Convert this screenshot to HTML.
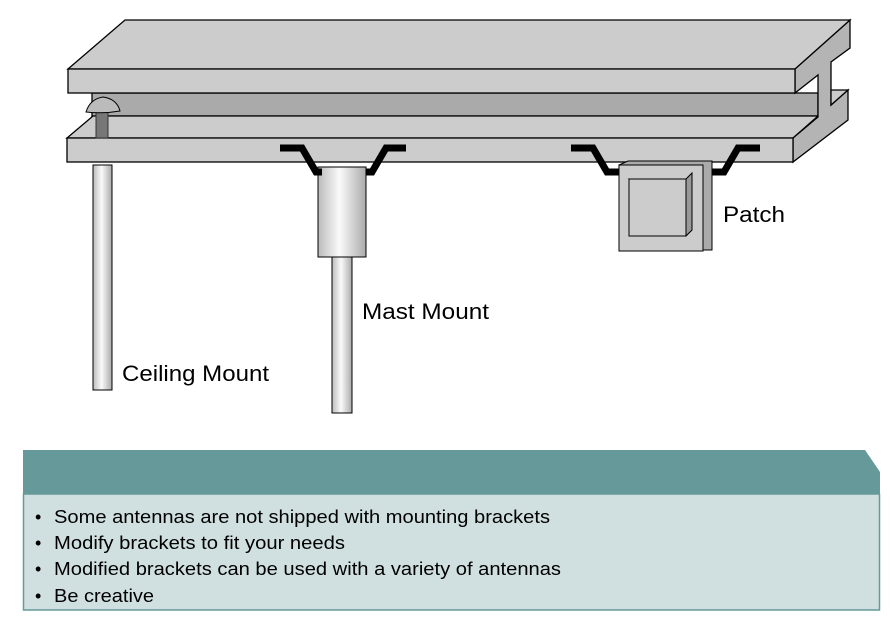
<!DOCTYPE html>
<html><head><meta charset="utf-8"><style>
html,body{margin:0;padding:0;background:#fff;}
svg{display:block;}
text{font-family:"Liberation Sans",Arial,sans-serif;}
</style></head><body>
<svg width="890" height="621" viewBox="0 0 890 621" xmlns="http://www.w3.org/2000/svg">
<defs>
<linearGradient id="pole" x1="0" x2="1" y1="0" y2="0">
<stop offset="0" stop-color="#bbb"/><stop offset="0.45" stop-color="#fafafa"/><stop offset="1" stop-color="#aaa"/>
</linearGradient>
</defs>
<g stroke="#000" stroke-width="1.3" stroke-linejoin="miter">
<!-- web -->
<rect x="92" y="93" width="726" height="23" fill="#aaaaaa"/>
<!-- bottom flange top face -->
<polygon points="67,138 93,116 818,116 793,138" fill="#cccccc"/>
<!-- right side profile -->
<polygon points="795,69 850,20 850,48 831,62 831,105 848,90 848,120 793,162 793,138 818,117 818,75 795,93" fill="#b4b4b4"/>
<polygon points="831,90 848,90 831,105" fill="#cccccc"/>
<!-- top flange top face -->
<polygon points="68,69 125,20 850,20 795,69" fill="#cccccc"/>
<!-- top flange front -->
<rect x="68" y="69" width="727" height="24" fill="#cccccc"/>
<!-- bottom flange front -->
<rect x="67" y="138" width="726" height="24" fill="#cccccc"/>
</g>
<!-- screw -->
<rect x="96" y="111" width="12" height="27" fill="#777" stroke="#333" stroke-width="1"/>
<path d="M86,112 Q90,99 103,97 Q117,99 120,111 Q103,114 86,112Z" fill="#bbb" stroke="#000" stroke-width="1"/>
<!-- ceiling pole -->
<rect x="93" y="165" width="19" height="225" fill="url(#pole)" stroke="#000" stroke-width="1"/>
<!-- mast -->
<rect x="332" y="255" width="20" height="158" fill="url(#pole)" stroke="#000" stroke-width="1"/>
<rect x="318" y="167" width="48" height="90" fill="url(#pole)" stroke="#000" stroke-width="1"/>
<!-- brackets -->
<polyline points="280,148 302,148 316,172 322,172" fill="none" stroke="#000" stroke-width="7"/>
<polyline points="366,172 372,172 386,148 406,148" fill="none" stroke="#000" stroke-width="7"/>
<polyline points="571,148 593,148 607,172 620,172" fill="none" stroke="#000" stroke-width="7"/>
<polyline points="712,172 724,172 738,148 760,148" fill="none" stroke="#000" stroke-width="7"/>
<!-- patch -->
<polygon points="619,165 628,161 712,161 712,250 703,250" fill="#aaa" stroke="#000" stroke-width="1"/>
<rect x="619" y="165" width="84" height="86" fill="#cccccc" stroke="#000" stroke-width="1"/>
<polygon points="629,179 686,179 692,173 692,230 686,236" fill="#999" stroke="#000" stroke-width="1"/>
<rect x="629" y="179" width="57" height="57" fill="#cccccc" stroke="#000" stroke-width="1"/>
<!-- labels -->
<text x="122" y="381" font-size="22" fill="#000" textLength="147" lengthAdjust="spacingAndGlyphs">Ceiling Mount</text>
<text x="362" y="319" font-size="22" fill="#000" textLength="127" lengthAdjust="spacingAndGlyphs">Mast Mount</text>
<text x="723" y="222" font-size="22" fill="#000" textLength="62" lengthAdjust="spacingAndGlyphs">Patch</text>
<!-- info panel -->
<polygon points="23,450 865,450 880,472 880,494 23,494" fill="#669999"/>
<rect x="23.5" y="494" width="856" height="116" fill="#d0e0e0" stroke="#669999" stroke-width="1.5"/>
<g font-size="18" fill="#000">
<text x="35" y="523">•</text><text x="54" y="523" textLength="496" lengthAdjust="spacingAndGlyphs">Some antennas are not shipped with mounting brackets</text>
<text x="35" y="549">•</text><text x="54" y="549" textLength="291" lengthAdjust="spacingAndGlyphs">Modify brackets to fit your needs</text>
<text x="35" y="575">•</text><text x="54" y="575" textLength="507" lengthAdjust="spacingAndGlyphs">Modified brackets can be used with a variety of antennas</text>
<text x="35" y="602">•</text><text x="54" y="602" textLength="100" lengthAdjust="spacingAndGlyphs">Be creative</text>
</g>
</svg>
</body></html>
